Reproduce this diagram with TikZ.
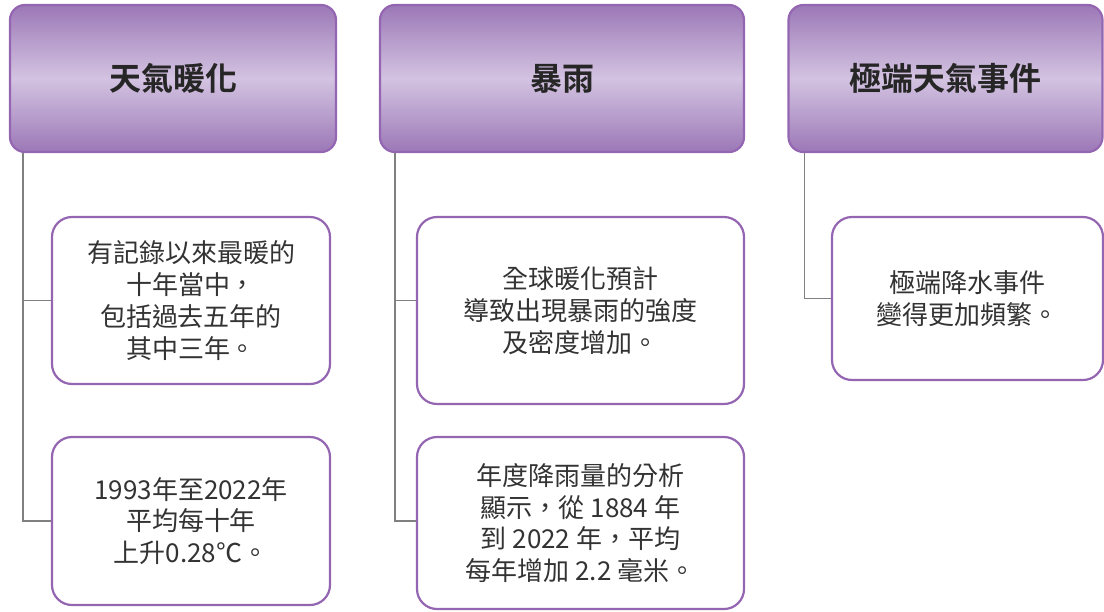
\documentclass[tikz,border=0pt]{standalone}
\usepackage{fontspec}
\setmainfont{Noto Sans CJK TC}
\newfontfamily\cjkbold{Noto Sans CJK TC Bold}
\definecolor{pborder}{HTML}{9466B2}
\definecolor{ptop}{HTML}{9C78B7}
\definecolor{pmid}{HTML}{D3C3E1}
\definecolor{txt}{HTML}{333333}
\definecolor{conn}{HTML}{808080}
\tikzset{
  header/.style={draw=pborder, line width=2.2pt, rounded corners=15pt,
    top color=ptop, bottom color=ptop, middle color=pmid,
    inner sep=0pt, align=center, text=black!85,
    font=\cjkbold\fontsize{32}{36}\selectfont},
  child/.style={draw=pborder, line width=2.2pt, rounded corners=20pt, fill=white,
    inner sep=0pt, align=center, text=txt,
    font=\fontsize{26}{31.7}\selectfont},
  conline/.style={draw=conn, line width=1.5pt},
}
\begin{document}
\begin{tikzpicture}[x=1pt,y=-1pt]
\useasboundingbox (0,0) rectangle (1104,611);
% headers
\node[header, minimum width=326pt, minimum height=147pt] (h1) at (173,78.5) {天氣暖化};
\node[header, minimum width=364pt, minimum height=147pt] (h2) at (562,78.5) {暴雨};
\node[header, minimum width=314pt, minimum height=147pt] (h3) at (945.5,78.5) {極端天氣事件};
% children
\node[child, minimum width=278pt, minimum height=167pt] (a) at (191,300.5) {有記錄以來最暖的\\十年當中，\\包括過去五年的\\其中三年。};
\node[child, minimum width=278pt, minimum height=168pt] (b) at (191,521) {1993年至2022年\\平均每十年\\上升0.28℃。};
\node[child, minimum width=327pt, minimum height=187pt] (c) at (580.5,310.5) {全球暖化預計\\導致出現暴雨的強度\\及密度增加。};
\node[child, minimum width=327pt, minimum height=172pt] (d) at (580.5,523) {年度降雨量的分析\\顯示，從 1884 年\\到 2022 年，平均\\每年增加 2.2 毫米。};
\node[child, minimum width=271pt, minimum height=163pt] (e) at (967.5,298.5) {極端降水事件\\變得更加頻繁。};
% connectors
\draw[conline] ([xshift=14pt]h1.south west) |- (a.west);
\draw[conline] ([xshift=14pt]h1.south west) |- (b.west);
\draw[conline] ([xshift=16pt]h2.south west) |- (c.west |- a.west);
\draw[conline] ([xshift=16pt]h2.south west) |- (d.west |- b.west);
\draw[conline] ([xshift=17pt]h3.south west) |- (e.west);
\end{tikzpicture}
\end{document}
